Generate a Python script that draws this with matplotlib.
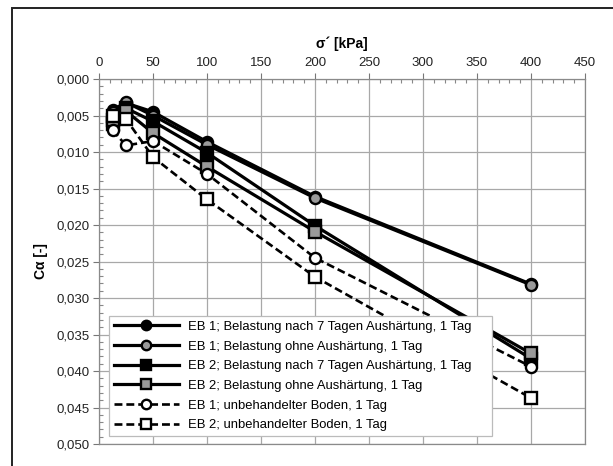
"""Creep coefficient C_alpha vs. effective stress for treated and untreated soil."""

import matplotlib
matplotlib.use("Agg")
import matplotlib.pyplot as plt
import matplotlib.patches as mpatches
from matplotlib.ticker import FuncFormatter, MultipleLocator

plt.rcParams["font.family"] = ["Liberation Sans", "DejaVu Sans"]

# ── data ────────────────────────────────────────────────────────────────────

stress = [12.5, 25, 50, 100, 200, 400]

eb1_cured = [0.0042, 0.0033, 0.0045, 0.0086, 0.0161, 0.0281]
eb1_uncured = [0.0045, 0.0032, 0.0050, 0.0090, 0.0163, 0.0282]
eb2_cured = [0.0062, 0.0040, 0.0058, 0.0101, 0.0201, 0.0383]
eb2_uncured = [0.0056, 0.0044, 0.0074, 0.0120, 0.0209, 0.0376]
eb1_untreated = [0.0070, 0.0091, 0.0085, 0.0130, 0.0245, 0.0394]
eb2_untreated = [0.0050, 0.0055, 0.0107, 0.0165, 0.0271, 0.0437]

labels = [
    "EB 1; Belastung nach 7 Tagen Aushärtung, 1 Tag",
    "EB 1; Belastung ohne Aushärtung, 1 Tag",
    "EB 2; Belastung nach 7 Tagen Aushärtung, 1 Tag",
    "EB 2; Belastung ohne Aushärtung, 1 Tag",
    "EB 1; unbehandelter Boden, 1 Tag",
    "EB 2; unbehandelter Boden, 1 Tag",
]

# ── figure ──────────────────────────────────────────────────────────────────

W, H = 613, 466
fig = plt.figure(figsize=(W / 100, H / 100), dpi=100)
fig.patch.set_facecolor("white")

# outer chart frame (only left/top edges fall inside the canvas)
frame = mpatches.Rectangle((12 / W, -0.2), 2.0, 1.2 - 8 / H,
                           transform=fig.transFigure, fill=False,
                           edgecolor="#222222", linewidth=1.4)
fig.patches.append(frame)

ax = fig.add_axes([99 / W, 1 - 444 / H, (585 - 99) / W, (444 - 79) / H])

grey = "#9a9a9a"
dash = (0, (3, 1.5))
series = [
    (eb1_cured, dict(ls="-", marker="o", mfc="black", lw=2.3)),
    (eb1_uncured, dict(ls="-", marker="o", mfc=grey, lw=2.3)),
    (eb2_cured, dict(ls="-", marker="s", mfc="black", lw=2.3)),
    (eb2_uncured, dict(ls="-", marker="s", mfc=grey, lw=2.3)),
    (eb1_untreated, dict(ls=dash, marker="o", mfc="white", lw=1.9)),
    (eb2_untreated, dict(ls=dash, marker="s", mfc="white", lw=1.9)),
]
for vals, style in series:
    ax.plot(stress, vals, color="black", mec="black", ms=8, mew=1.7,
            zorder=3, **style)

ax.set_xlim(0, 450)
ax.set_ylim(0.050, 0.000)

ax.xaxis.set_major_locator(MultipleLocator(50))
ax.xaxis.set_minor_locator(MultipleLocator(10))
ax.yaxis.set_major_locator(MultipleLocator(0.005))
ax.yaxis.set_minor_locator(MultipleLocator(0.001))
ax.yaxis.set_major_formatter(FuncFormatter(lambda v, _: f"{v:.3f}".replace(".", ",")))

ax.xaxis.tick_top()
ax.xaxis.set_label_position("top")
ax.tick_params(which="major", direction="out", length=4, width=0.8,
               color="#777777", labelsize=9.5, labelcolor="#222222", pad=3)
ax.tick_params(which="minor", direction="in", length=3, width=0.8,
               color="#888888")
ax.tick_params(axis="x", which="both", top=True, bottom=False)
ax.tick_params(axis="y", which="both", left=True, right=False)

ax.grid(True, which="major", color="#a8a8a8", linewidth=0.9)
ax.set_axisbelow(True)
for sp in ax.spines.values():
    sp.set_color("#8a8a8a")
    sp.set_linewidth(0.9)

ax.set_xlabel("σ´ [kPa]", fontsize=10, fontweight="bold", labelpad=7)
ax.set_ylabel("Cα [-]", fontsize=10, fontweight="bold", labelpad=6)

leg = ax.legend(labels, loc="lower left",
                bbox_to_anchor=(10 / 486, 8 / 365, 383 / 486, 120 / 365),
                mode="expand", borderaxespad=0, fontsize=9.4,
                handlelength=5.0, handletextpad=0.7, labelspacing=0.58,
                borderpad=0.35, fancybox=False, framealpha=1,
                edgecolor="#bbbbbb", markerscale=0.85)
leg.get_frame().set_linewidth(0.9)

fig.savefig("out.png", dpi=100)
